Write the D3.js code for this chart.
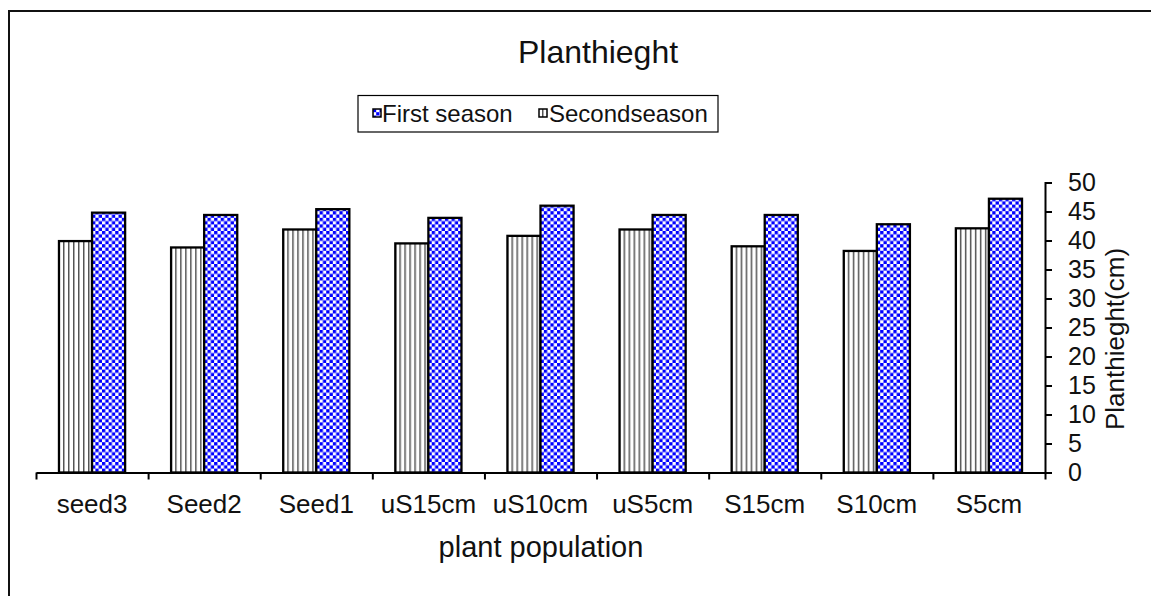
<!DOCTYPE html>
<html>
<head>
<meta charset="utf-8">
<script src="https://d3js.org/d3.v7.min.js"></script>
<style>
  body { margin: 0; background: #fff; }
  svg text { font-family: "Liberation Sans", Arial, sans-serif; fill: #111; }
</style>
</head>
<body>
<svg width="1151" height="596"></svg>
<script>
// plant height chart, two seasons
var categories = ["seed3", "Seed2", "Seed1", "uS15cm", "uS10cm", "uS5cm", "S15cm", "S10cm", "S5cm"];
var secondSeason = [39.9, 38.8, 41.9, 39.5, 40.8, 41.9, 39.0, 38.2, 42.1];
var firstSeason = [44.8, 44.4, 45.4, 43.9, 46.0, 44.4, 44.4, 42.8, 47.2];
var seriesNames = ["Secondseason", "First season"];
var yTicks = [0, 5, 10, 15, 20, 25, 30, 35, 40, 45, 50];

var svg = d3.select("svg"),
    plotLeft = 36, plotRight = 1045, plotBottom = 472.5, plotTop = 182.5;

// patterns
var defs = svg.append("defs");
var chk = defs.append("pattern").attr("id", "checker")
    .attr("patternUnits", "userSpaceOnUse").attr("width", 6.6).attr("height", 6.6);
chk.append("rect").attr("width", 6.6).attr("height", 6.6).attr("fill", "#fff");
chk.append("rect").attr("width", 3.3).attr("height", 3.3).attr("fill", "#0000ff");
chk.append("rect").attr("x", 3.3).attr("y", 3.3).attr("width", 3.3).attr("height", 3.3).attr("fill", "#0000ff");

var vl = defs.append("pattern").attr("id", "vlines")
    .attr("patternUnits", "userSpaceOnUse").attr("width", 5).attr("height", 5);
vl.append("rect").attr("width", 5).attr("height", 5).attr("fill", "#fff");
vl.append("rect").attr("x", 2).attr("width", 1.5).attr("height", 5).attr("fill", "#555");

var fills = {"Secondseason": "url(#vlines)", "First season": "url(#checker)"};

// outer frame
svg.append("rect")
    .attr("x", 9).attr("y", 11).attr("width", 1160).attr("height", 600)
    .attr("fill", "none").attr("stroke", "#111").attr("stroke-width", 2);

var x = d3.scaleBand().domain(categories).range([plotLeft, plotRight]).padding(0);
var xIdx = d3.scaleLinear().domain([0, categories.length]).range([plotLeft, plotRight]);
var bw = x.bandwidth();
var x1 = d3.scaleBand().domain(seriesNames).range([bw * 0.205, bw * 0.795]).padding(0);
var y = d3.scaleLinear().domain([0, 50]).range([plotBottom, plotTop]);

var rows = categories.map(function(c, i) {
    return {cat: c, vals: [
        {name: "Secondseason", v: secondSeason[i]},
        {name: "First season", v: firstSeason[i]}
    ]};
});

// bars
var grp = svg.append("g").selectAll("g").data(rows).enter().append("g")
    .attr("transform", function(d) { return "translate(" + x(d.cat) + ",0)"; });
grp.selectAll("rect").data(function(d) { return d.vals; }).enter().append("rect")
    .attr("x", function(d) { return x1(d.name); })
    .attr("y", function(d) { return y(d.v); })
    .attr("width", x1.bandwidth())
    .attr("height", function(d) { return plotBottom - y(d.v); })
    .attr("fill", function(d) { return fills[d.name]; })
    .attr("stroke", "#000").attr("stroke-width", 2.3);

// x axis
var xa = svg.append("g").attr("transform", "translate(0," + plotBottom + ")")
    .call(d3.axisBottom(xIdx).tickValues(d3.range(categories.length + 1)).tickFormat("").tickSize(7).tickSizeOuter(0));
xa.select(".domain").attr("stroke", "#000").attr("stroke-width", 2);
xa.selectAll(".tick line").attr("stroke", "#000").attr("stroke-width", 2);

svg.append("g").selectAll("text").data(categories).enter().append("text")
    .attr("x", function(d) { return x(d) + bw / 2; })
    .attr("y", 513)
    .attr("text-anchor", "middle")
    .style("font-size", "26px")
    .text(function(d) { return d; });

// y axis on the right
var ya = svg.append("g").attr("transform", "translate(" + plotRight + ",0)")
    .call(d3.axisRight(y).tickValues(yTicks).tickSize(7).tickSizeOuter(7).tickPadding(16));
ya.select(".domain").attr("stroke", "#000").attr("stroke-width", 2);
ya.selectAll(".tick line").attr("stroke", "#000").attr("stroke-width", 2);
ya.selectAll(".tick text").style("font-size", "25px").style("font-family", "Liberation Sans, Arial, sans-serif").attr("fill", "#111");

// titles
svg.append("text").attr("x", 598).attr("y", 63).attr("text-anchor", "middle")
    .style("font-size", "32px").text("Planthieght");
svg.append("text").attr("x", 541).attr("y", 557).attr("text-anchor", "middle")
    .style("font-size", "29px").text("plant population");
svg.append("text").attr("transform", "translate(1124,339) rotate(-90)").attr("text-anchor", "middle")
    .style("font-size", "26px").text("Planthieght(cm)");

// legend
var lg = svg.append("g");
lg.append("rect").attr("x", 358).attr("y", 95.5).attr("width", 360).attr("height", 36.5)
    .attr("fill", "#fff").attr("stroke", "#000").attr("stroke-width", 1.2);
var legendItems = [
    {name: "First season", sx: 373, tx: 382},
    {name: "Secondseason", sx: 539, tx: 549}
];
legendItems.forEach(function(it) {
    lg.append("rect").attr("x", it.sx).attr("y", 109).attr("width", 8).attr("height", 8)
        .attr("fill", fills[it.name]).attr("stroke", "#000").attr("stroke-width", 1.5);
    lg.append("text").attr("x", it.tx).attr("y", 122).style("font-size", "24px").text(it.name);
});
</script>
</body>
</html>
